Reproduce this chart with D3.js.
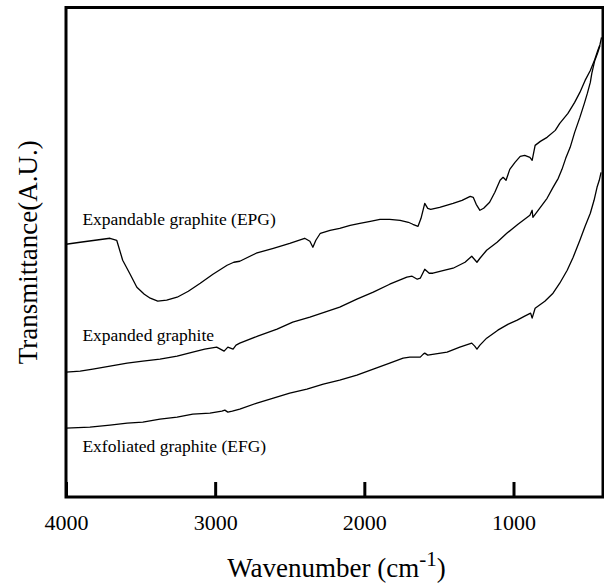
<!DOCTYPE html>
<html>
<head>
<meta charset="utf-8">
<script src="https://cdn.jsdelivr.net/npm/d3@7"></script>
<style>
  html, body { margin: 0; padding: 0; background: #fff; }
  svg { display: block; }
</style>
</head>
<body>
<svg id="svg" width="604" height="584"></svg>
<script>
// FTIR spectra, transmittance in arbitrary units

// Expandable graphite (EPG)
const epgWn = [4000, 3905, 3805, 3705, 3660, 3620, 3570, 3525, 3475, 3435, 3385, 3325, 3255, 3180,
  3100, 3015, 2920, 2875, 2835, 2725, 2610, 2500, 2400, 2365, 2345, 2325, 2295, 2230, 2165, 2095,
  2030, 1960, 1895, 1830, 1760, 1705, 1675, 1640, 1620, 1595, 1575, 1555, 1495, 1405, 1345, 1290,
  1270, 1250, 1225, 1200, 1160, 1125, 1090, 1070, 1050, 1025, 990, 955, 925, 890, 875, 855, 820,
  775, 720, 690, 635, 590, 555, 520, 485, 455, 435, 420, 410];
const epgT = [25.3, 25.5, 25.7, 25.9, 25.7, 23.7, 22.3, 21.0, 20.3, 19.9, 19.6, 19.7, 20.0, 20.6,
  21.4, 22.3, 23.2, 23.5, 23.6, 24.4, 24.9, 25.4, 25.9, 25.6, 25.0, 25.7, 26.4, 26.7, 26.9, 27.2,
  27.4, 27.6, 27.8, 27.8, 27.7, 27.5, 27.3, 27.1, 27.9, 29.4, 28.9, 28.8, 29.0, 29.4, 29.7, 30.1,
  30.0, 29.3, 28.7, 28.9, 29.5, 30.5, 31.7, 32.0, 31.7, 32.8, 33.5, 34.1, 34.2, 34.0, 33.7, 35.2, 35.6,
  36.0, 36.7, 37.4, 38.4, 39.5, 40.5, 41.7, 42.7, 43.8, 44.7, 45.3, 46.0];

// Expanded graphite
const expWn = [4000, 3905, 3820, 3705, 3590, 3485, 3370, 3255, 3150, 3070, 2990, 2940, 2915, 2880,
  2860, 2835, 2715, 2585, 2480, 2365, 2265, 2165, 2050, 1940, 1830, 1715, 1680, 1645, 1625, 1595,
  1565, 1540, 1460, 1405, 1325, 1280, 1245, 1225, 1180, 1110, 1045, 970, 890, 875, 870, 820, 775,
  735, 700, 675, 650, 620, 590, 555, 525, 505, 485, 475, 455, 435, 420];
const expT = [12.5, 12.6, 12.8, 13.1, 13.4, 13.6, 13.8, 14.1, 14.5, 14.8, 15.0, 14.6, 15.0, 14.8,
  15.2, 15.4, 16.1, 16.8, 17.5, 18.0, 18.5, 19.0, 19.8, 20.5, 21.3, 22.0, 22.1, 21.8, 21.9, 22.8,
  22.4, 22.4, 22.7, 22.9, 23.5, 24.1, 23.5, 23.9, 24.7, 25.5, 26.4, 27.3, 28.2, 28.7, 28.0, 29.0, 29.9,
  31.0, 31.9, 32.8, 33.9, 35.0, 36.5, 38.0, 39.4, 40.4, 41.5, 42.4, 43.7, 44.5, 45.2];

// Exfoliated graphite (EFG)
const efgWn = [4000, 3840, 3705, 3590, 3485, 3370, 3255, 3150, 3035, 2955, 2935, 2915, 2885, 2835,
  2720, 2610, 2500, 2385, 2275, 2165, 2050, 1940, 1830, 1740, 1695, 1625, 1605, 1595, 1575, 1445,
  1360, 1280, 1260, 1245, 1225, 1180, 1105, 1035, 975, 925, 885, 875, 855, 790, 735, 690, 640, 600,
  555, 520, 485, 460, 440, 425, 413];
const efgT = [6.9, 7.0, 7.2, 7.4, 7.5, 7.8, 8.0, 8.3, 8.4, 8.6, 8.7, 8.5, 8.6, 8.8,
  9.4, 9.9, 10.4, 10.8, 11.3, 11.7, 12.2, 12.8, 13.4, 13.9, 14.0, 14.0, 14.3, 14.4, 14.2, 14.5,
  15.0, 15.4, 15.1, 14.8, 15.2, 15.9, 16.7, 17.3, 17.7, 18.1, 18.4, 17.9, 18.9, 19.6, 20.4, 21.4, 22.7, 24.0,
  25.7, 27.1, 28.4, 29.7, 31.0, 31.7, 32.5];

const seriesNames = ["Expandable graphite (EPG)", "Expanded graphite", "Exfoliated graphite (EFG)"];
const xTicks = [4000, 3000, 2000, 1000];

const svg = d3.select("#svg");
const mLeft = 66, mRight = 603, mTop = 7.5, mBottom = 497;
const serif = "'Liberation Serif', 'Times New Roman', serif";

const x = d3.scaleLinear().domain([4000, 400]).range([mLeft, mRight]);
const y = d3.scaleLinear().domain([0, 49]).range([mBottom, mTop]);

// the three spectra
const series = [
  { name: seriesNames[0], wn: epgWn, t: epgT, labelT: 27.2 },
  { name: seriesNames[1], wn: expWn, t: expT, labelT: 15.6 },
  { name: seriesNames[2], wn: efgWn, t: efgT, labelT: 4.5 }
];

const line = d3.line()
  .x(d => x(d[0]))
  .y(d => y(d[1]));

series.forEach(s => {
  svg.append("path")
    .datum(s.wn.map((w, i) => [w, s.t[i]]))
    .attr("d", line)
    .attr("fill", "none")
    .attr("stroke", "#000")
    .attr("stroke-width", 1.3)
    .attr("stroke-linejoin", "round");

  svg.append("text")
    .attr("x", x(3890))
    .attr("y", y(s.labelT))
    .attr("font-family", serif)
    .attr("font-size", 17.5)
    .attr("fill", "#000")
    .text(s.name);
});

// bottom axis, ticks pointing inward
const xAxis = d3.axisBottom(x)
  .tickValues(xTicks)
  .tickFormat(d3.format("d"))
  .tickSizeInner(-15)
  .tickSizeOuter(0)
  .tickPadding(17);

const gx = svg.append("g")
  .attr("transform", "translate(0," + mBottom + ")")
  .call(xAxis);
gx.select(".domain").remove();
gx.selectAll(".tick line").attr("stroke", "#000").attr("stroke-width", 3);
gx.selectAll(".tick text")
  .attr("font-family", serif)
  .attr("font-size", 22)
  .attr("fill", "#000");

// frame
svg.append("rect")
  .attr("x", mLeft)
  .attr("y", mTop)
  .attr("width", mRight - mLeft)
  .attr("height", mBottom - mTop)
  .attr("fill", "none")
  .attr("stroke", "#000")
  .attr("stroke-width", 3);

// axis titles
const xt = svg.append("text")
  .attr("x", (mLeft + mRight) / 2 + 2)
  .attr("y", 577)
  .attr("text-anchor", "middle")
  .attr("font-family", serif)
  .attr("font-size", 27)
  .attr("fill", "#000");
xt.append("tspan").text("Wavenumber (cm");
xt.append("tspan").attr("dy", -11).attr("font-size", 21).text("-1");
xt.append("tspan").attr("dy", 11).text(")");

svg.append("text")
  .attr("transform", "translate(37," + (mTop + mBottom) / 2 + ") rotate(-90)")
  .attr("text-anchor", "middle")
  .attr("font-family", serif)
  .attr("font-size", 27)
  .attr("fill", "#000")
  .text("Transmittance(A.U.)");
</script>
</body>
</html>
